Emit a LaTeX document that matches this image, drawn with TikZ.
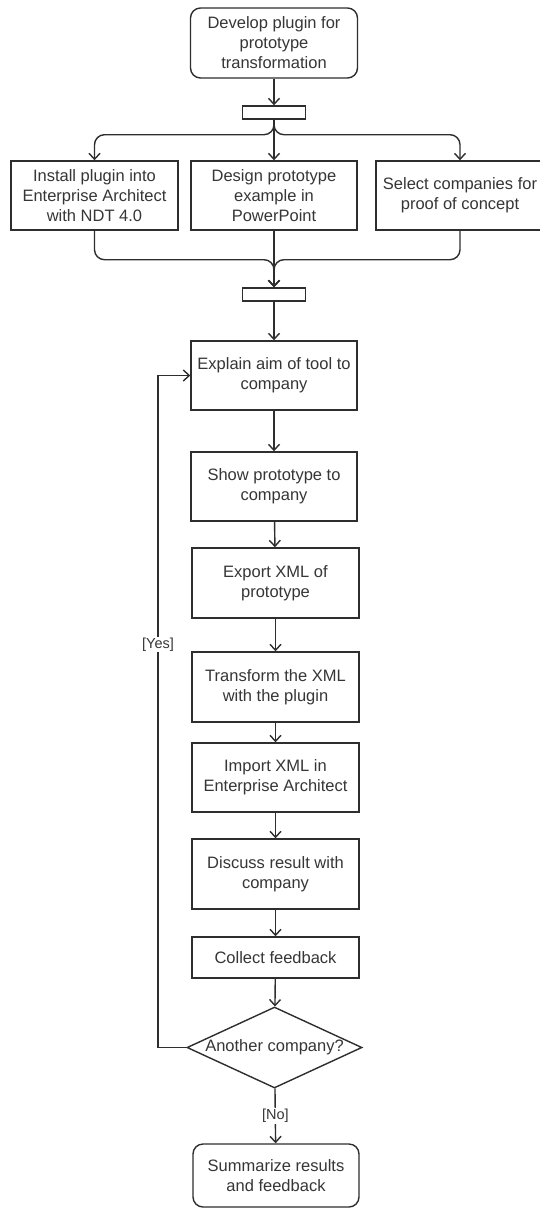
\documentclass[tikz,border=0pt]{standalone}
\usepackage{fontspec}
\setmainfont{Liberation Sans}
\usetikzlibrary{arrows.meta,positioning,shapes.geometric}
\definecolor{ink}{HTML}{2E2E2E}
\definecolor{txt}{HTML}{363636}

\begin{document}
\begin{tikzpicture}[x=1pt,y=-1pt,
    box/.style={draw=ink, line width=1.4pt, fill=white, text=txt, align=center,
        inner sep=0pt, minimum width=167pt, minimum height=69pt,
        font=\fontsize{16.5}{20}\selectfont},
    terminal/.style={box, rounded corners=10pt},
    barnode/.style={draw=ink, line width=1.4pt, fill=white, inner sep=0pt,
        minimum width=63pt, minimum height=13pt},
    decision/.style={box, diamond, minimum width=175pt, minimum height=81pt},
    flow/.style={draw=ink, line width=1.4pt, -{Straight Barb[length=6pt,width=11pt]}},
    lbl/.style={fill=white, text=txt, inner sep=1pt, font=\fontsize{14.5}{17}\selectfont}]
    \useasboundingbox (0,0) rectangle (539,1210);

    % Start and fork
    \node[terminal, minimum height=70pt] (dev) at (274,43)
        {Develop plugin for\\prototype\\transformation};
    \node[barnode] (bar1) at (274,112.5) {};

    % Parallel preparation steps
    \node[box] (install) at (94.5,195.5)
        {Install plugin into\\Enterprise Architect\\with NDT 4.0};
    \node[box, minimum width=166pt] (design) at (274,195.5)
        {Design prototype\\example in\\PowerPoint};
    \node[box, minimum width=168pt] (select) at (460,195.5)
        {Select companies for\\proof of concept};
    \node[barnode] (bar2) at (274,294.5) {};

    % Steps per company
    \node[box, minimum width=166pt] (explain) at (274,375.5)
        {Explain aim of tool to\\company};
    \node[box, minimum width=166pt] (show) at (274,486.5)
        {Show prototype to\\company};
    \node[box, minimum height=70pt] (export) at (275.5,583)
        {Export XML of\\prototype};
    \node[box, minimum height=70pt] (transform) at (275.5,687)
        {Transform the XML\\with the plugin};
    \node[box] (import) at (275.5,777.5)
        {Import XML in\\Enterprise Architect};
    \node[box, minimum height=70pt] (discuss) at (275.5,874)
        {Discuss result with\\company};
    \node[box, minimum height=41pt] (collect) at (275.5,957.5)
        {Collect feedback};
    \node[decision] (another) at (274.5,1047.5)
        {\makebox[0pt]{Another company?}};
    \node[terminal, minimum width=166pt, minimum height=63pt] (summ) at (276,1175.5)
        {Summarize results\\and feedback};
    \coordinate (loop) at (158,375.5);

    % Fork
    \draw[flow] (dev) -- (bar1);
    \draw[flow, rounded corners=10pt] (bar1.south) -- ++(0,15) -| (install.north);
    \draw[flow] (bar1) -- (design);
    \draw[flow, rounded corners=10pt] (bar1.south) -- ++(0,15) -| (select.north);

    % Join
    \draw[flow, rounded corners=10pt] (install.south) -- ++(0,29) -| (bar2.north);
    \draw[flow] (design) -- (bar2);
    \draw[flow, rounded corners=10pt] (select.south) -- ++(0,29) -| (bar2.north);

    % Main sequence
    \draw[flow] (bar2) -- (explain);
    \draw[flow] (explain) -- (show);
    \draw[flow] (show) -- (export);
    \draw[flow] (export) -- (transform);
    \draw[flow] (transform) -- (import);
    \draw[flow] (import) -- (discuss);
    \draw[flow] (discuss) -- (collect);
    \draw[flow] (collect) -- (another);

    % Decision
    \draw[flow] (another.west) -| (loop) node[lbl, pos=0.8] {[Yes]} -- (explain.west);
    \draw[flow] (another) -- node[lbl] {[No]} (summ);
\end{tikzpicture}
\end{document}
